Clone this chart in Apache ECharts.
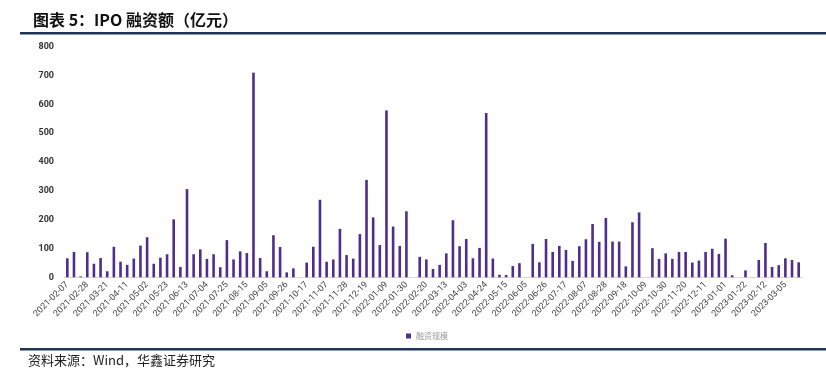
<!DOCTYPE html>
<html>
<head>
<meta charset="utf-8">
<script src="https://cdn.jsdelivr.net/npm/echarts@6/dist/echarts.min.js"></script>
<style>
    html, body { margin: 0; padding: 0; background: #fff; }
    #chart { width: 826px; height: 378px; }
</style>
</head>
<body>
<div id="chart"></div>
<script>
// 周度日期
var weeks = [
    '2021-02-07','2021-02-14','2021-02-21','2021-02-28','2021-03-07','2021-03-14','2021-03-21','2021-03-28',
    '2021-04-04','2021-04-11','2021-04-18','2021-04-25','2021-05-02','2021-05-09','2021-05-16','2021-05-23',
    '2021-05-30','2021-06-06','2021-06-13','2021-06-20','2021-06-27','2021-07-04','2021-07-11','2021-07-18',
    '2021-07-25','2021-08-01','2021-08-08','2021-08-15','2021-08-22','2021-08-29','2021-09-05','2021-09-12',
    '2021-09-19','2021-09-26','2021-10-03','2021-10-10','2021-10-17','2021-10-24','2021-10-31','2021-11-07',
    '2021-11-14','2021-11-21','2021-11-28','2021-12-05','2021-12-12','2021-12-19','2021-12-26',
    '2022-01-02','2022-01-09','2022-01-16','2022-01-23','2022-01-30','2022-02-06','2022-02-13','2022-02-20',
    '2022-02-27','2022-03-06','2022-03-13','2022-03-20','2022-03-27','2022-04-03','2022-04-10','2022-04-17',
    '2022-04-24','2022-05-01','2022-05-08','2022-05-15','2022-05-22','2022-05-29','2022-06-05','2022-06-12',
    '2022-06-19','2022-06-26','2022-07-03','2022-07-10','2022-07-17','2022-07-24','2022-07-31','2022-08-07',
    '2022-08-14','2022-08-21','2022-08-28','2022-09-04','2022-09-11','2022-09-18','2022-09-25','2022-10-02',
    '2022-10-09','2022-10-16','2022-10-23','2022-10-30','2022-11-06','2022-11-13','2022-11-20','2022-11-27',
    '2022-12-04','2022-12-11','2022-12-18','2022-12-25',
    '2023-01-01','2023-01-08','2023-01-15','2023-01-22','2023-01-29','2023-02-05','2023-02-12','2023-02-19',
    '2023-02-26','2023-03-05','2023-03-12','2023-03-19'
];

// 融资规模（亿元）
var ipoAmount = [
    66, 88, 3, 87, 47, 67, 21, 106, 54, 43, 65, 110, 139, 47, 68, 80, 201, 36, 306, 80, 97, 64, 80, 35, 129,
    62, 90, 84, 710, 67, 21, 146, 105, 17, 31, 0, 51, 106, 269, 54, 62, 168, 77, 65, 150, 338, 208, 112, 579, 176, 109,
    229, 0, 71, 62, 29, 43, 83, 198, 108, 133, 66, 102, 570, 65, 9, 8, 39, 49, 0, 116, 52, 133, 88, 109, 95, 57, 108,
    132, 185, 123, 206, 124, 124, 38, 191, 225, 0, 101, 64, 83, 64, 88, 88, 51, 58, 88, 99, 81, 134, 7, 0, 24, 0,
    60, 119, 36, 42, 66, 60, 52
];

var yTicks = [0, 100, 200, 300, 400, 500, 600, 700, 800];

var barColor = '#4f2d8c';
var ruleColor = '#1f3358';

var chart = echarts.init(document.getElementById('chart'));
var option = {
    animation: false,
    title: {
        text: '图表 5：IPO 融资额（亿元）',
        left: 28,
        top: 7,
        textStyle: {
            fontFamily: 'Noto Sans CJK SC',
            fontSize: 16,
            fontWeight: 'bold',
            color: '#111'
        }
    },
    graphic: [
        { type: 'rect', shape: { x: 20, y: 32, width: 806, height: 2.5 }, style: { fill: ruleColor } },
        { type: 'rect', shape: { x: 20, y: 348, width: 806, height: 2.5 }, style: { fill: ruleColor } },
        {
            type: 'text', left: 28, top: 354,
            style: { text: '资料来源：Wind，华鑫证券研究', fontFamily: 'Noto Sans CJK SC', fontSize: 13, fill: '#222' }
        }
    ],
    legend: {
        top: 327,
        left: 401,
        itemWidth: 5,
        itemHeight: 5,
        itemGap: 4,
        textStyle: { fontFamily: 'Noto Sans CJK SC', fontSize: 8, color: '#999' },
        data: [{ name: '融资规模', icon: 'rect' }]
    },
    grid: {
        left: 64,
        right: 24,
        top: 46.7,
        height: 230.6
    },
    xAxis: {
        type: 'category',
        data: weeks,
        axisLine: { lineStyle: { color: '#d9d9d9' } },
        axisTick: { show: false },
        axisLabel: {
            interval: 2,
            rotate: 45,
            fontFamily: 'Roboto',
            fontSize: 9,
            color: '#444',
            margin: 6
        }
    },
    yAxis: {
        type: 'value',
        min: yTicks[0],
        max: yTicks[yTicks.length - 1],
        interval: 100,
        splitLine: { show: false },
        axisLine: { show: false },
        axisTick: { show: false },
        axisLabel: {
            fontFamily: 'Roboto',
            fontSize: 9,
            fontWeight: 'bold',
            color: '#333',
            margin: 10
        }
    },
    series: [{
        name: '融资规模',
        type: 'bar',
        barWidth: 2.6,
        itemStyle: { color: barColor },
        data: ipoAmount
    }]
};
chart.setOption(option);
</script>
</body>
</html>
